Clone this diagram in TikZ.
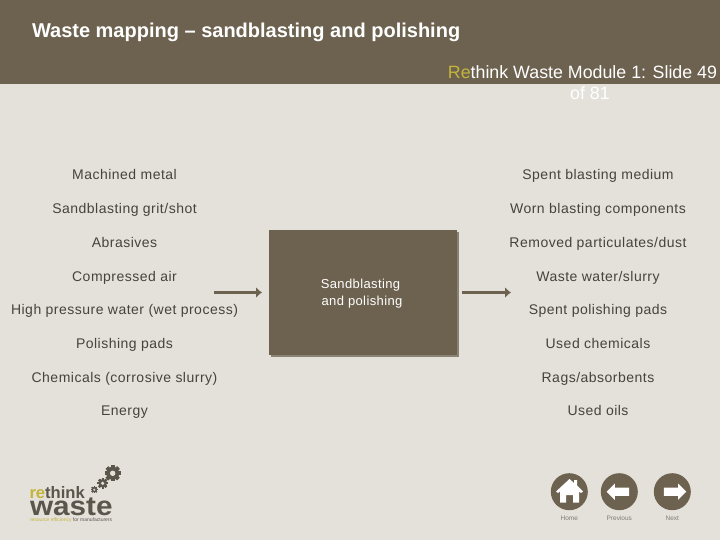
\documentclass[tikz,border=0pt]{standalone}
\usepackage{fontspec}
\setmainfont{Liberation Sans}
\usetikzlibrary{arrows.meta,positioning,shapes.arrows}
\definecolor{paper}{HTML}{E4E1DB}
\definecolor{umber}{HTML}{6D6250}
\definecolor{shade}{HTML}{8A8373}
\definecolor{ink}{HTML}{45433E}
\definecolor{rewaste}{HTML}{C4B53A}
\definecolor{caption}{HTML}{7F7C75}
\definecolor{logogrey}{HTML}{5A564C}
\newfontfamily\listfont[LetterSpace=3.5]{Liberation Sans}
\newfontfamily\boxfont[LetterSpace=3]{Liberation Sans}

\begin{document}
\begin{tikzpicture}[
      x=1pt, y=-1pt,
      every node/.style = {align=center, inner sep=0pt, outer sep=0pt},
      flow/.style = {draw=umber, line width=2.8pt, -{Latex[length=6pt,width=11pt]}},
      item/.style = {font=\listfont\fontsize{14}{15}\selectfont, text=ink, text height=10pt, text depth=3pt, minimum height=33.7pt},
      navdisc/.style = {circle, fill=umber, minimum size=37pt},
      navtext/.style = {font=\fontsize{6.5}{8}\selectfont, text=caption, text height=5pt, text depth=0pt},
      navarrow/.style = {single arrow, fill=white, inner sep=4pt, minimum height=22.5pt, minimum width=16pt, single arrow head extend=4pt},
      gear/.pic = {
        \foreach \a in {0,45,...,315} {
          \fill[logogrey, rotate=\a] (-0.28,-1.25) rectangle (0.28,1.25);
        }
        \fill[logogrey] (0,0) circle (1);
        \fill[paper] (0,0) circle (0.42);
      }
    ]
    \fill[paper] (0,0) rectangle (720,540);
    \fill[umber] (0,0) rectangle (720,84);
    \useasboundingbox (0,0) rectangle (720,540);

    \node (title) [anchor=west, text=white, font=\bfseries\fontsize{20}{22}\selectfont] at (32,32.5) {Waste mapping -- sandblasting and polishing};
    \node (slideno) [text=white, font=\fontsize{17.8}{21}\selectfont] at (582.5,83) {{\color{rewaste}Re}think Waste Module 1: Slide 49\\\hspace*{15pt}of 81};

    % inputs
    \node (metal)  [item] at (124.5,176.5) {Machined metal};
    \node (grit)   [item, below=0pt of metal]  {Sandblasting grit/shot};
    \node (abras)  [item, below=0pt of grit]   {Abrasives};
    \node (air)    [item, below=0pt of abras]  {Compressed air};
    \node (water)  [item, below=0pt of air]    {High pressure water (wet process)};
    \node (pads)   [item, below=0pt of water]  {Polishing pads};
    \node (chem)   [item, below=0pt of pads]   {Chemicals (corrosive slurry)};
    \node (energy) [item, below=0pt of chem]   {Energy};

    % outputs
    \node (medium) [item] at (598,176.5) {Spent blasting medium};
    \node (worn)   [item, below=0pt of medium] {Worn blasting components};
    \node (dust)   [item, below=0pt of worn]   {Removed particulates/dust};
    \node (slurry) [item, below=0pt of dust]   {Waste water/slurry};
    \node (spent)  [item, below=0pt of slurry] {Spent polishing pads};
    \node (used)   [item, below=0pt of spent]  {Used chemicals};
    \node (rags)   [item, below=0pt of used]   {Rags/absorbents};
    \node (oils)   [item, below=0pt of rags]   {Used oils};

    \node (process) [fill=umber, minimum width=188pt, minimum height=125pt,
                     preaction={fill=shade, transform canvas={xshift=2pt, yshift=-2pt}}] at (363,292.5) {};
    \node (processname) [text=white, font=\boxfont\fontsize{13}{17}\selectfont] at (360.5,293.5) {Sandblasting\\\hspace*{3pt}and polishing};

    \coordinate (infrom) at (214,292.5);
    \coordinate[left=7pt of process.west] (into);
    \coordinate[right=5pt of process.east] (outfrom);
    \coordinate (outto)  at (511,292.5);
    \draw[flow] (infrom) -- (into);
    \draw[flow] (outfrom) -- (outto);

    % logo
    \pic at (112.7,473.3) [scale=6.5] {gear};
    \pic at (102.7,483.3) [scale=4.2] {gear};
    \pic at (94.3,489.7)  [scale=2.7] {gear};
    \node (rethink) [anchor=base west, font=\bfseries\fontsize{16.6}{17}\selectfont, text=logogrey] at (29.5,498.5) {{\color{rewaste}re}think};
    \node (waste)   [anchor=base west, xscale=1.1, transform shape, font=\bfseries\fontsize{27}{27}\selectfont, text=logogrey] at (30,515) {waste};
    \node (tagline) [anchor=base west, font=\fontsize{5}{6}\selectfont, text=logogrey] at (30,521.5) {{\color{rewaste}resource efficiency} for manufacturers};

    % navigation
    \node (home) [navdisc] at (569.3,491.7) {};
    \node (prev) [navdisc] at (619.3,491.7) {};
    \node (next) [navdisc] at (672.3,491.7) {};
    \fill[white] (556,491.5) -- (569.5,479) -- (574,483) -- (574,480) -- (577,480) -- (577,485.5) -- (583,491.5) -- (581,493) -- (579,491.5) -- (579,502.5) -- (573,502.5) -- (573,495) -- (566,495) -- (566,502.5) -- (560,502.5) -- (560,491.5) -- (558,493) -- cycle;
    \node (prevarrow) [navarrow, shape border rotate=180] at (619.9,491.7) {};
    \node (nextarrow) [navarrow] at (672.9,491.7) {};
    \node (homelabel) [navtext] at (569.3,517.5) {Home};
    \node (prevlabel) [navtext] at (619.3,517.5) {Previous};
    \node (nextlabel) [navtext] at (672.3,517.5) {Next};
\end{tikzpicture}
\end{document}
